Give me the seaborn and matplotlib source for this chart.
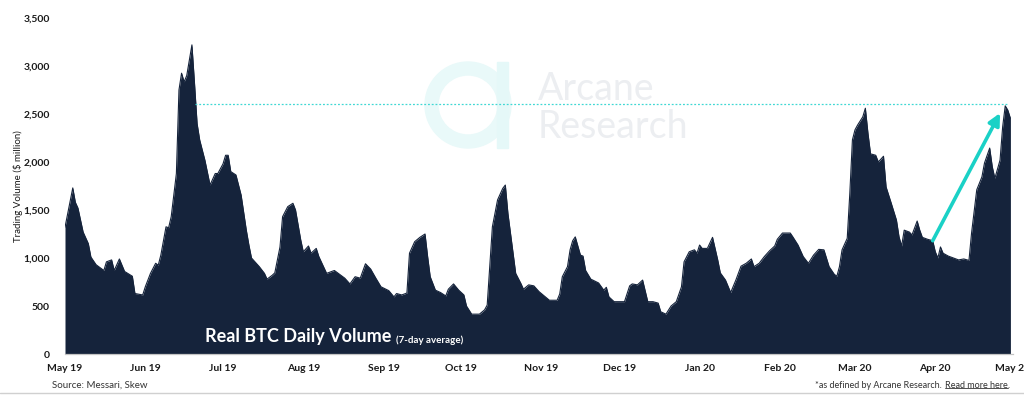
import matplotlib
matplotlib.use("Agg")
import pandas as pd
import matplotlib.pyplot as plt
import matplotlib.dates as mdates
import seaborn as sns
from matplotlib.patches import Wedge, Rectangle
from matplotlib.transforms import IdentityTransform
from matplotlib.lines import Line2D
from matplotlib.ticker import FuncFormatter

# data: days since 1 May 2019 and 7-day avg volume ($ million)
start = "2019-05-01"
day = [0, 3, 4, 5, 7, 9, 10, 12, 15, 16, 18, 19, 21, 23, 26, 27, 30, 31, 33, 35,
       36, 37, 39, 40, 41, 43, 44, 45, 46, 47, 48, 49, 50, 51, 52, 54, 56, 58, 59, 61,
       62, 63, 64, 66, 68, 70, 71, 72, 75, 77, 78, 80, 81, 83, 84, 86, 88, 89, 91, 92,
       94, 95, 97, 98, 101, 104, 106, 108, 110, 112, 114, 116, 118, 120, 122, 125, 127, 128, 130, 132,
       133, 135, 137, 139, 140, 141, 143, 145, 147, 148, 150, 152, 154, 155, 157, 160, 162, 163, 164, 165,
       167, 169, 170, 171, 173, 174, 176, 177, 179, 181, 183, 187, 190, 191, 192, 194, 195, 196, 197, 199,
       200, 201, 203, 206, 208, 209, 210, 212, 216, 218, 219, 221, 223, 225, 227, 229, 230, 232, 234, 236,
       238, 239, 241, 243, 244, 245, 246, 248, 250, 252, 253, 255, 257, 259, 261, 263, 265, 266, 268, 270,
       272, 274, 275, 277, 280, 281, 283, 285, 287, 289, 291, 293, 295, 297, 298, 299, 300, 302, 303, 304,
       305, 306, 308, 309, 310, 311, 313, 314, 316, 317, 319, 321, 322, 323, 324, 326, 327, 329, 330, 331,
       333, 335, 336, 337, 338, 339, 341, 343, 345, 347, 349, 350, 352, 354, 355, 357, 358, 359, 361, 362,
       363, 364, 365]
volume = [1320, 1730, 1580, 1520, 1270, 1150, 1010, 930, 870, 960, 980, 870, 990, 860, 810, 630, 615, 700, 840, 945,
          925, 1030, 1325, 1315, 1430, 1880, 2750, 2925, 2835, 2900, 3060, 3220, 2820, 2400, 2230, 2020, 1760, 1880, 1880, 1980,
          2070, 2070, 1900, 1865, 1655, 1290, 1135, 1000, 910, 840, 780, 820, 845, 1115, 1430, 1535, 1570, 1500, 1190, 1065,
          1125, 1050, 1100, 1015, 840, 870, 830, 790, 730, 805, 790, 940, 885, 790, 700, 660, 595, 630, 615, 635,
          1050, 1170, 1215, 1250, 1015, 805, 665, 640, 605, 675, 730, 665, 615, 500, 415, 415, 460, 510, 910, 1325,
          1605, 1725, 1760, 1465, 1050, 840, 735, 675, 720, 710, 650, 560, 560, 625, 805, 910, 1085, 1180, 1220, 1030,
          1020, 870, 780, 740, 665, 695, 595, 545, 545, 710, 730, 720, 770, 545, 545, 530, 440, 415, 500, 545,
          700, 960, 1065, 1085, 1050, 1135, 1100, 1100, 1215, 980, 845, 770, 640, 770, 915, 945, 990, 910, 945, 1015,
          1075, 1125, 1195, 1260, 1260, 1220, 1135, 1015, 945, 1030, 1090, 1085, 910, 830, 810, 910, 1085, 1205, 1675, 2230,
          2335, 2385, 2470, 2560, 2300, 2085, 2070, 2000, 2060, 1740, 1570, 1395, 1220, 1125, 1290, 1270, 1240, 1385, 1290, 1215,
          1195, 1180, 1065, 1000, 1115, 1050, 1020, 1000, 980, 990, 975, 1260, 1710, 1845, 1990, 2145, 1950, 1830, 2020, 2365,
          2585, 2540, 2455]

ref_level = 2600
ref_days = (50, 364)
arrow_days = (335, 361)
arrow_vals = (1180, 2510)

navy = "#15233b"
teal = "#1ad1c6"

df = pd.DataFrame({"date": pd.Timestamp(start) + pd.to_timedelta(day, unit="D"), "volume": volume})
t0 = pd.Timestamp(start)

sns.set_style("white")
plt.rcParams["font.family"] = ["Lato", "DejaVu Sans"]

fig = plt.figure(figsize=(10.24, 3.95), dpi=100)
ax = fig.add_axes([65 / 1024, 1 - 354 / 395, 948 / 1024, 336 / 395])

# watermark (pixel coords)
ax.add_patch(Wedge((468, 290), 43, 0, 360, width=13, color="#e9f9f9", transform=IdentityTransform(), zorder=0, clip_on=False))
ax.add_patch(Rectangle((497, 247), 11, 86, color="#e5f8f8", transform=IdentityTransform(), zorder=0, clip_on=False))
fig.text(538 / 1024, 1 - 100 / 395, "Arcane", fontsize=27, color="#eceef1", va="baseline", zorder=0)
fig.text(538 / 1024, 1 - 138 / 395, "Research", fontsize=27, color="#eceef1", va="baseline", zorder=0)

ax.fill_between(df["date"], df["volume"], color=navy, lw=0, zorder=2)
sns.lineplot(data=df, x="date", y="volume", ax=ax, color=navy, lw=0.8, zorder=3)

ax.hlines(ref_level, t0 + pd.Timedelta(days=ref_days[0]), t0 + pd.Timedelta(days=ref_days[1]),
          colors="#40d8d4", linestyles=(0, (1.5, 1.5)), lw=0.9, zorder=4)
ax.annotate("", xy=(t0 + pd.Timedelta(days=arrow_days[1]), arrow_vals[1]),
            xytext=(t0 + pd.Timedelta(days=arrow_days[0]), arrow_vals[0]),
            arrowprops=dict(arrowstyle="-|>,head_length=0.7,head_width=0.35", color=teal, lw=2.6,
                            shrinkA=0, shrinkB=0), zorder=5)

ax.set_xlim(t0, pd.Timestamp("2020-05-01"))
ax.set_ylim(0, 3500)
ax.xaxis.set_major_locator(mdates.MonthLocator())
ax.xaxis.set_major_formatter(mdates.DateFormatter("%b %y"))
ax.set_yticks(range(0, 3501, 500))
ax.yaxis.set_major_formatter(FuncFormatter(lambda v, p: f"{int(v):,}"))
ax.tick_params(axis="x", length=3, width=0.8, color="#bbbbbb", labelsize=7.5, pad=4, labelcolor="#1a1a1a")
ax.tick_params(axis="y", length=0, labelsize=7.5, pad=11, labelcolor="#1a1a1a")
for lbl in ax.get_xticklabels() + ax.get_yticklabels():
    lbl.set_fontweight("bold")
for s in ["left", "top", "right"]:
    ax.spines[s].set_visible(False)
ax.spines["bottom"].set_color("#c4c4c4")
ax.spines["bottom"].set_linewidth(0.9)
ax.set_xlabel("")
ax.set_ylabel(r"Trading Volume (\$ million)", fontsize=7, color="#1a1a1a")
ax.yaxis.set_label_coords((23 - 65) / 948, 0.5)

title = ax.text(0.148, 0.028, "Real BTC Daily Volume", transform=ax.transAxes, fontsize=13,
                fontweight="bold", color="white", va="bottom", zorder=6)
ax.annotate("(7-day average)", xy=(1, 0), xycoords=title, xytext=(3, 0), textcoords="offset points",
            fontsize=7, fontweight="bold", color="white", va="bottom", zorder=6)

fig.text(52 / 1024, 1 - 385 / 395, "Source: Messari, Skew", fontsize=7, color="#333333", va="center")
t1 = fig.text(815 / 1024, 1 - 385 / 395, "*as defined by Arcane Research.", fontsize=6.5, color="#333333", va="center")
t2 = fig.text(0, 0, "Read more here", fontsize=6.5, color="#333333")
fig.canvas.draw()
r = fig.canvas.get_renderer()
b1 = t1.get_window_extent(r)
t2.set_position(((b1.x1 + 3) / 1024, b1.y0 / 395))
t2.set_va("bottom")
fig.canvas.draw()
b2 = t2.get_window_extent(r)
t3 = fig.text(b2.x1 / 1024, b2.y0 / 395, ".", fontsize=6.5, color="#333333", va="bottom")
fig.add_artist(Line2D([b2.x0, b2.x1], [b2.y0 + 1.5, b2.y0 + 1.5], color="#333333", lw=0.6, transform=IdentityTransform()))
fig.add_artist(Line2D([0, 1], [0.005, 0.005], color="#d0d0d0", lw=1, transform=fig.transFigure))

fig.savefig("out.png", dpi=100)
